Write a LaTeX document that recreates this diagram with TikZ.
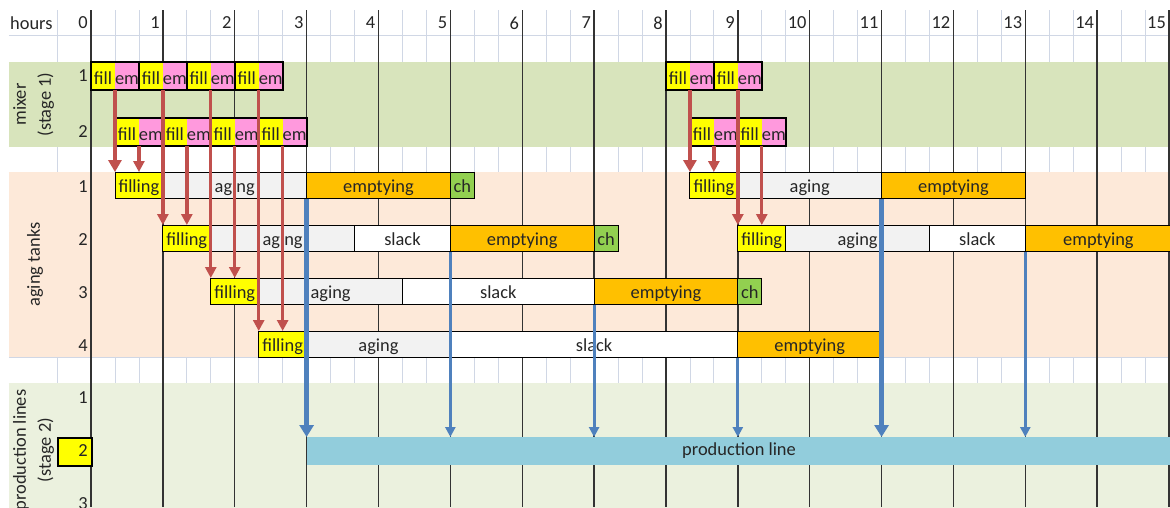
\documentclass[tikz,border=0pt]{standalone}
\usepackage{fontspec}
\setmainfont{Carlito}
\usepackage{tikz}
\usetikzlibrary{arrows.meta}
\usetikzlibrary{calc}
\definecolor{mixband}{RGB}{216,228,188}
\definecolor{tankband}{RGB}{253,233,217}
\definecolor{lineband}{RGB}{235,241,222}
\definecolor{gridc}{RGB}{208,215,229}
\definecolor{fillc}{RGB}{255,255,0}
\definecolor{emc}{RGB}{255,153,221}
\definecolor{agec}{RGB}{242,242,242}
\definecolor{emptc}{RGB}{255,192,0}
\definecolor{chc}{RGB}{146,208,80}
\definecolor{prodc}{RGB}{146,205,220}
\definecolor{feedc}{RGB}{192,80,77}
\definecolor{drainc}{RGB}{79,129,189}
\newcommand{\cw}{23.957pt} % one third of an hour

\begin{document}
\begin{tikzpicture}[
    x=71.87pt, y=-1pt,
    every node/.style={font=\fontsize{18.4pt}{22pt}\selectfont, text=black!85},
    grid line/.style={gridc, line width=0.8pt},
    hour line/.style={black!80, line width=1.4pt},
    cell/.style={anchor=north west, inner sep=0pt, outer sep=0pt, minimum width=#1*\cw},
    mixcell/.style={cell=#1, minimum height=28pt, text height=18pt, text depth=2pt},
    tankcell/.style={cell=#1, draw=black, line width=0.9pt, minimum height=26.5pt,
                     text height=17pt, text depth=3pt},
    pair/.style={draw=black, line width=2.2pt},
    feed/.style={feedc, line width=3.4pt, -{Triangle[width=11pt,length=11pt]}},
    feed thick/.style={feed, line width=4.2pt, -{Triangle[width=13pt,length=12pt]}},
    drain/.style={drainc, line width=2.8pt, -{Triangle[width=10pt,length=10pt]}},
    drain thick/.style={drain, line width=4.3pt, -{Triangle[width=14pt,length=12pt]}},
    rowno/.style={anchor=east, inner sep=3pt},
    title/.style={rotate=90, align=center, font=\fontsize{18.4pt}{25pt}\selectfont}
    ]

    % sheet
    \useasboundingbox (-1.2662,0) rectangle (15.0132,507);
    \clip (-1.2662,0) rectangle (15.0132,507);
    \fill[white] (-1.2662,0) rectangle (15.0132,507);
    % cell grid
    \foreach \k in {1,...,46} \draw[grid line] ({\k/3},10) -- ({\k/3},507);
    \draw[grid line] (-0.4731,10) -- (-0.4731,507);
    \foreach \y in {35,62,90,118,146,172,199,225,252,278,304,331,357,383,410,437,465,491}
        \draw[grid line] (-1.141,\y) -- (15.1,\y);
    % bands
    \fill[mixband] (-1.141,62) rectangle (15.1,147);
    \fill[tankband] (-1.141,172) rectangle (15.1,357);
    \fill[lineband] (-1.141,383) rectangle (15.1,517);
    % hours
    \foreach \h in {0,...,15} {
        \draw[hour line] (\h,10) -- (\h,507);
        \node[rowno] (hr\h) at (\h,23) {\h};
    }
    \node[anchor=west, inner sep=1pt] (hours) at (-1.141,23) {hours};
    \node[draw=black, line width=2pt, fill=fillc, anchor=north west, inner sep=0pt,
          minimum width=34pt, minimum height=28pt] (pick) at (-0.4731,437) {};
    \foreach \y/\n in {76/1,132/2,186.5/1,239.5/2,292.5/3,345.5/4,397.5/1,451/2,504/3}
        \node[rowno] at (0,\y) {\n};
    \node[title] (mixer) at (-0.800,104.5) {mixer\\(stage 1)};
    \node[title] (tanks) at (-0.779,264.5) {aging tanks};
    \node[title] (lines) at (-0.800,450) {production lines\\(stage 2)};

    % mixer batches
    \foreach \s [count=\i] in {0,0.6667,1.3333,2,8,8.6667} {
        \node[mixcell=1, fill=fillc] (mf\i) at (\s,62) {fill};
        \node[mixcell=1, fill=emc] (me\i) at (mf\i.north east) {em};
        \draw[pair] (mf\i.north west) rectangle (me\i.south east);
    }
    \foreach \s [count=\i] in {0.3333,1,1.6667,2.3333,8.3333,9} {
        \node[mixcell=1, fill=fillc] (nf\i) at (\s,118) {fill};
        \node[mixcell=1, fill=emc] (ne\i) at (nf\i.north east) {em};
        \draw[pair] (nf\i.north west) rectangle (ne\i.south east);
    }

    % aging tanks
    \node[tankcell=2, fill=fillc] (t1f) at (0.3333,172) {filling};
    \node[tankcell=6, fill=agec] (t1a) at (t1f.north east) {aging};
    \node[tankcell=6, fill=emptc] (t1e) at (t1a.north east) {emptying};
    \node[tankcell=1, fill=chc] (t1c) at (t1e.north east) {ch};
    \node[tankcell=2, fill=fillc] (u1f) at (8.3333,172) {filling};
    \node[tankcell=6, fill=agec] (u1a) at (u1f.north east) {aging};
    \node[tankcell=6, fill=emptc] (u1e) at (u1a.north east) {emptying};

    \node[tankcell=2, fill=fillc] (t2f) at (1,225) {filling};
    \node[tankcell=6, fill=agec] (t2a) at (t2f.north east) {aging};
    \node[tankcell=4, fill=white] (t2s) at (t2a.north east) {slack};
    \node[tankcell=6, fill=emptc] (t2e) at (t2s.north east) {emptying};
    \node[tankcell=1, fill=chc] (t2c) at (t2e.north east) {ch};
    \node[tankcell=2, fill=fillc] (u2f) at (9,225) {filling};
    \node[tankcell=6, fill=agec] (u2a) at (u2f.north east) {aging};
    \node[tankcell=4, fill=white] (u2s) at (u2a.north east) {slack};
    \node[tankcell=6.1, fill=emptc] (u2e) at (u2s.north east) {emptying};

    \node[tankcell=2, fill=fillc] (t3f) at (1.6667,278) {filling};
    \node[tankcell=6, fill=agec] (t3a) at (t3f.north east) {aging};
    \node[tankcell=8, fill=white] (t3s) at (t3a.north east) {slack};
    \node[tankcell=6, fill=emptc] (t3e) at (t3s.north east) {emptying};
    \node[tankcell=1, fill=chc] (t3c) at (t3e.north east) {ch};

    \node[tankcell=2, fill=fillc] (t4f) at (2.3333,331) {filling};
    \node[tankcell=6, fill=agec] (t4a) at (t4f.north east) {aging};
    \node[tankcell=12, fill=white] (t4s) at (t4a.north east) {slack};
    \node[tankcell=6, fill=emptc] (t4e) at (t4s.north east) {emptying};

    % production line
    \node[cell=36.1, fill=prodc, minimum height=28pt] (prod) at (3,437) {production line};

    % mixer -> tanks
    \draw[feed thick] (me1.south west) -- (me1.south west |- t1f.north);
    \draw[feed] (ne1.south west) -- (ne1.south west |- t1f.north);
    \draw[feed] (me2.south west) -- (me2.south west |- t2f.north);
    \draw[feed] (ne2.south west) -- (ne2.south west |- t2f.north);
    \draw[feed] (me3.south west) -- (me3.south west |- t3f.north);
    \draw[feed] (ne3.south west) -- (ne3.south west |- t3f.north);
    \draw[feed] (me4.south west) -- (me4.south west |- t4f.north);
    \draw[feed] (ne4.south west) -- (ne4.south west |- t4f.north);
    \draw[feed thick] (me5.south west) -- (me5.south west |- u1f.north);
    \draw[feed] (ne5.south west) -- (ne5.south west |- u1f.north);
    \draw[feed] (me6.south west) -- (me6.south west |- u2f.north);
    \draw[feed] (ne6.south west) -- (ne6.south west |- u2f.north);
    % tanks -> production line
    \draw[drain thick] (t1e.south west) -- (t1e.south west |- prod.north);
    \draw[drain] (t2e.south west) -- (t2e.south west |- prod.north);
    \draw[drain] (t3e.south west) -- (t3e.south west |- prod.north);
    \draw[drain] (t4e.south west) -- (t4e.south west |- prod.north);
    \draw[drain thick] (u1e.south west) -- (u1e.south west |- prod.north);
    \draw[drain] (u2e.south west) -- (u2e.south west |- prod.north);
\end{tikzpicture}
\end{document}
